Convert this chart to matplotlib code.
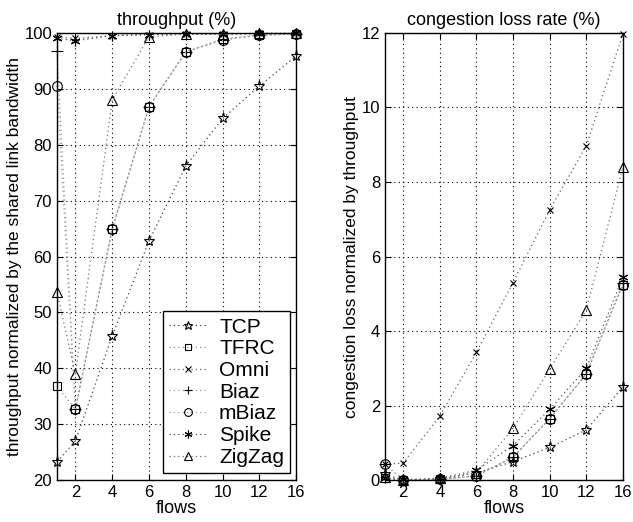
import matplotlib
matplotlib.use('Agg')
import matplotlib.pyplot as plt

plt.rcParams['font.family'] = ['Liberation Sans', 'DejaVu Sans']

# flows (x axis is drawn by position, 1 flow sits half a step left of 2)
flows = [1, 2, 4, 6, 8, 10, 12, 16]
xpos = [0.5, 1, 2, 3, 4, 5, 6, 7]
tick_pos = [1, 2, 3, 4, 5, 6, 7]
tick_labels = ['2', '4', '6', '8', '10', '12', '16']

names = ['TCP', 'TFRC', 'Omni', 'Biaz', 'mBiaz', 'Spike', 'ZigZag']
markers = ['*', 's', 'x', '+', 'o', (6, 2, 0), '^']
sizes = [8, 6, 5, 8, 7, 7, 7]
line_colors = ['#404040', '#8a8a8a', '#606060', '#9a9a9a', '#9a9a9a', '#505050', '#707070']

# throughput (%)
thr_tcp = [23.3, 27.0, 45.8, 62.8, 76.2, 84.7, 90.5, 95.9]
thr_tfrc = [36.8, 32.7, 64.9, 86.8, 96.6, 98.9, 99.6, 99.8]
thr_omni = [99.3, 99.0, 99.5, 99.7, 99.8, 99.8, 99.9, 99.9]
thr_biaz = [96.8, 32.7, 64.9, 86.8, 96.6, 98.8, 99.6, 99.8]
thr_mbiaz = [90.5, 32.7, 64.9, 86.8, 96.6, 98.7, 99.6, 99.8]
thr_spike = [99.0, 98.6, 99.5, 99.7, 99.8, 99.8, 99.9, 99.9]
thr_zigzag = [53.6, 39.0, 88.0, 99.3, 99.8, 99.8, 99.9, 99.9]

# congestion loss rate (%)
loss_tcp = [0.16, 0.0, 0.03, 0.2, 0.5, 0.88, 1.35, 2.5]
loss_tfrc = [0.05, 0.01, 0.02, 0.12, 0.62, 1.65, 2.85, 5.25]
loss_omni = [0.43, 0.46, 1.72, 3.43, 5.3, 7.25, 8.97, 11.97]
loss_biaz = [0.43, 0.01, 0.02, 0.12, 0.62, 1.65, 2.85, 5.3]
loss_mbiaz = [0.43, 0.01, 0.02, 0.12, 0.62, 1.65, 2.85, 5.25]
loss_spike = [0.05, 0.02, 0.05, 0.27, 0.93, 1.9, 3.0, 5.45]
loss_zigzag = [0.1, 0.0, 0.05, 0.2, 1.39, 2.98, 4.56, 8.4]

thr = [thr_tcp, thr_tfrc, thr_omni, thr_biaz, thr_mbiaz, thr_spike, thr_zigzag]
loss = [loss_tcp, loss_tfrc, loss_omni, loss_biaz, loss_mbiaz, loss_spike, loss_zigzag]

fig = plt.figure(figsize=(6.33, 5.22), dpi=100)
ax1 = fig.add_axes([0.090, 0.080, 0.378, 0.857])
ax2 = fig.add_axes([0.608, 0.080, 0.376, 0.857])


def draw(ax, series):
    for i in range(len(names)):
        ax.plot(xpos, series[i], linestyle=(0, (1, 2.5)), color=line_colors[i], linewidth=0.9,
                marker=markers[i], markersize=sizes[i], markerfacecolor='none',
                markeredgecolor='black', markeredgewidth=0.8, label=names[i],
                clip_on=False)
    ax.set_xlim(0.5, 7)
    ax.set_xticks(tick_pos)
    ax.set_xticklabels(tick_labels)
    ax.grid(True, linestyle=(0, (1, 3)), color='black', linewidth=0.8)
    ax.tick_params(direction='in', labelsize=12, length=4, top=True, right=True)
    for s in ax.spines.values():
        s.set_linewidth(1.0)
    ax.set_xlabel('flows', fontsize=13, labelpad=0)


draw(ax1, thr)
ax1.set_ylim(20, 100)
ax1.set_yticks([20, 30, 40, 50, 60, 70, 80, 90, 100])
ax1.set_title('throughput (%)', fontsize=13)
ax1.set_ylabel('throughput normalized by the shared link bandwidth', fontsize=12.5, labelpad=2)
leg = ax1.legend(loc='lower right', bbox_to_anchor=(0.975, 0.016), borderaxespad=0,
                 fontsize=15, frameon=True, fancybox=False, edgecolor='black',
                 handlelength=1.8, handletextpad=0.6, borderpad=0.3, labelspacing=0.13,
                 markerscale=0.8, framealpha=1)
leg.get_frame().set_linewidth(1.0)

draw(ax2, loss)
ax2.set_ylim(0, 12)
ax2.set_yticks([0, 2, 4, 6, 8, 10, 12])
ax2.set_title('congestion loss rate (%)', fontsize=13)
ax2.set_ylabel('congestion loss normalized by throughput', fontsize=12.5, labelpad=2)

fig.savefig('out.png', dpi=100)
